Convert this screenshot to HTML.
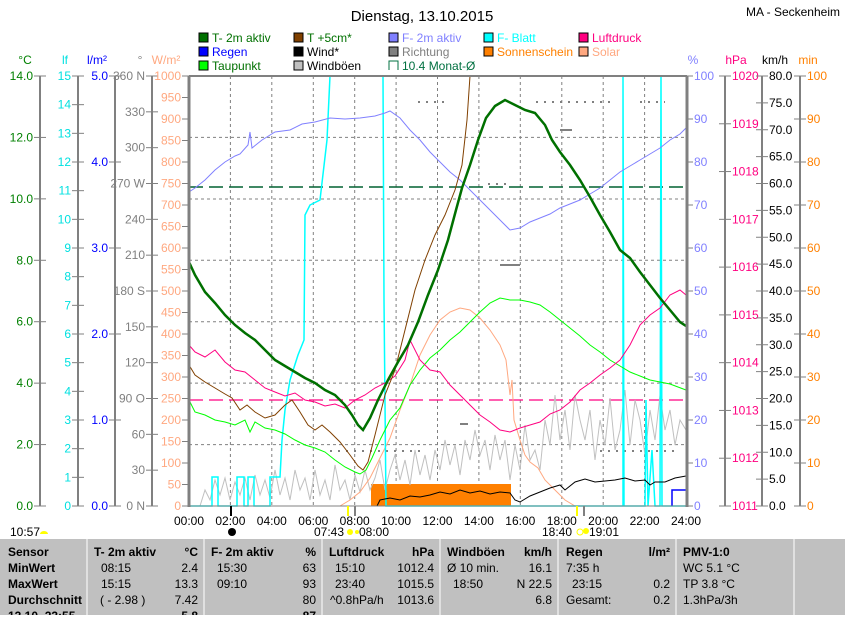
<!DOCTYPE html>
<html><head><meta charset="utf-8"><style>
body{margin:0;background:#fff;width:845px;height:615px;overflow:hidden;font-family:"Liberation Sans",sans-serif}
svg text{font-family:"Liberation Sans",sans-serif}
</style></head><body>
<svg width="845" height="615" viewBox="0 0 845 615" xmlns="http://www.w3.org/2000/svg">
<rect width="845" height="615" fill="#fff"/>
<text x="422" y="21" font-size="15" text-anchor="middle">Dienstag, 13.10.2015</text>
<text x="840" y="16" font-size="12" text-anchor="end">MA - Seckenheim</text>

<g font-size="12">
<rect x="199" y="33" width="9" height="9" fill="#007000" stroke="#000"/><text x="212" y="42" fill="#007000">T- 2m aktiv</text>
<rect x="199" y="47" width="9" height="9" fill="#0000ff" stroke="#000"/><text x="212" y="56" fill="#0000ff">Regen</text>
<rect x="199" y="61" width="9" height="9" fill="#00ff00" stroke="#000"/><text x="212" y="70" fill="#007000">Taupunkt</text>
<rect x="294" y="33" width="9" height="9" fill="#804000" stroke="#000"/><text x="307" y="42" fill="#007000">T +5cm*</text>
<rect x="294" y="47" width="9" height="9" fill="#000" stroke="#000"/><text x="307" y="56" fill="#000">Wind*</text>
<rect x="294" y="61" width="9" height="9" fill="#c0c0c0" stroke="#000"/><text x="307" y="70" fill="#000">Windböen</text>
<rect x="389" y="33" width="9" height="9" fill="#8080ff" stroke="#000"/><text x="402" y="42" fill="#8080ff">F- 2m aktiv</text>
<rect x="389" y="47" width="9" height="9" fill="#808080" stroke="#000"/><text x="402" y="56" fill="#808080">Richtung</text>
<path d="M389 70V61H398V70" fill="none" stroke="#007040"/><text x="402" y="70" fill="#007040">10.4 Monat-Ø</text>
<rect x="484" y="33" width="9" height="9" fill="#00ffff" stroke="#000"/><text x="497" y="42" fill="#00ffff">F- Blatt</text>
<rect x="484" y="47" width="9" height="9" fill="#ff8000" stroke="#000"/><text x="497" y="56" fill="#ff8000">Sonnenschein</text>
<rect x="579" y="33" width="9" height="9" fill="#ff0080" stroke="#000"/><text x="592" y="42" fill="#ff0080">Luftdruck</text>
<rect x="579" y="47" width="9" height="9" fill="#ffa880" stroke="#000"/><text x="592" y="56" fill="#ffa880">Solar</text>
</g>

<g font-size="12" text-anchor="middle">
<text x="25" y="64" fill="#008000">°C</text>
<text x="65" y="64" fill="#00e0e0">lf</text>
<text x="97" y="64" fill="#0000ff">l/m²</text>
<text x="140" y="64" fill="#808080">°</text>
<text x="166" y="64" fill="#ffa880">W/m²</text>
<text x="693" y="64" fill="#8080ff">%</text>
<text x="736" y="64" fill="#ff0080">hPa</text>
<text x="775" y="64" fill="#000">km/h</text>
<text x="808" y="64" fill="#ff8000">min</text>
</g>

<g stroke="#808080" stroke-width="2">
<line x1="40" y1="76" x2="40" y2="506"/>
<line x1="78" y1="76" x2="78" y2="506"/>
<line x1="115" y1="76" x2="115" y2="506"/>
<line x1="152" y1="76" x2="152" y2="506"/>
<line x1="725" y1="76" x2="725" y2="506"/>
<line x1="762" y1="76" x2="762" y2="506"/>
<line x1="800" y1="76" x2="800" y2="506"/>
</g>

<g id="axes" font-size="12"></g>

<rect x="189" y="76" width="497" height="430" fill="#fff"/>
<g stroke="#808080" stroke-dasharray="3,3" stroke-width="1">
<line x1="230.4" y1="76" x2="230.4" y2="506"/><line x1="271.8" y1="76" x2="271.8" y2="506"/>
<line x1="313.3" y1="76" x2="313.3" y2="506"/><line x1="354.7" y1="76" x2="354.7" y2="506"/>
<line x1="396.1" y1="76" x2="396.1" y2="506"/><line x1="437.5" y1="76" x2="437.5" y2="506"/>
<line x1="478.9" y1="76" x2="478.9" y2="506"/><line x1="520.3" y1="76" x2="520.3" y2="506"/>
<line x1="561.8" y1="76" x2="561.8" y2="506"/><line x1="603.2" y1="76" x2="603.2" y2="506"/>
<line x1="644.6" y1="76" x2="644.6" y2="506"/>
<line x1="189" y1="137.4" x2="686" y2="137.4"/><line x1="189" y1="199" x2="686" y2="199"/>
<line x1="189" y1="260.3" x2="686" y2="260.3"/><line x1="189" y1="321.7" x2="686" y2="321.7"/>
<line x1="189" y1="383.1" x2="686" y2="383.1"/><line x1="189" y1="444.6" x2="686" y2="444.6"/>
</g>
<line x1="189" y1="187" x2="686" y2="187" stroke="#006030" stroke-width="1.5" stroke-dasharray="14,6"/>
<line x1="189" y1="400" x2="686" y2="400" stroke="#ff0080" stroke-width="1.2" stroke-dasharray="14,6"/>

<rect x="371" y="484" width="140" height="22" fill="#ff8000"/>
<polyline fill="none" stroke="#c0c0c0" stroke-width="1" points="200,506 205,490 210,500 215,480 220,495 225,478 230,500 235,482 240,495 245,478 250,500 255,475 260,495 265,480 270,498 275,470 280,495 285,478 290,500 295,470 300,490 305,478 310,500 315,470 320,495 325,480 330,500 335,465 340,490 345,480 350,500 355,475 360,492 365,470 370,490 375,478 380,460 385,490 390,470 395,455 400,480 405,460 410,485 415,450 420,475 425,455 430,480 435,450 440,470 445,440 450,465 455,445 460,475 465,440 470,460 475,430 480,455 485,440 490,470 495,435 500,460 505,440 510,480 515,445 520,470 525,425 530,460 535,450 540,470 545,420 550,445 555,395 560,440 565,410 570,450 575,395 580,420 585,440 590,410 595,460 600,420 605,445 610,398 615,450 620,430 625,390 630,445 635,400 640,420 645,455 650,410 655,440 660,395 665,430 670,410 675,445 680,420 686,430"/>
<g stroke="#808080" stroke-width="2" stroke-dasharray="2,6">
<line x1="418" y1="102" x2="450" y2="102"/><line x1="536" y1="102" x2="610" y2="102"/><line x1="640" y1="102" x2="665" y2="102"/>
<line x1="488" y1="184" x2="510" y2="184"/><line x1="330" y1="451" x2="420" y2="451"/><line x1="600" y1="451" x2="680" y2="451"/>
</g>
<g stroke="#808080" stroke-width="2"><line x1="500" y1="265" x2="520" y2="265"/><line x1="560" y1="130" x2="572" y2="130"/><line x1="460" y1="424" x2="468" y2="424"/></g>
<polyline fill="none" stroke="#ffa880" stroke-width="1" points="340,506 350,500 360,492 370,478 380,458 390,438 400,410 410,385 420,355 430,335 440,320 450,312 460,308 470,310 480,318 490,330 500,345 506,360 510,395 512,380 514,420 520,440 525,455 530,462 538,468 545,480 555,490 565,500 575,506 686,506"/>
<polyline fill="none" stroke="#00ffff" stroke-width="1.5" points="189,506 212,506 212,477 218,477 218,506 237,506 237,477 244,477 244,506 248,506 248,477 254,477 254,506 270,506 270,477 280,477 282,440 285,410 290,380 298,355 304,340 305,215 310,205 320,200 327,140 330,76 383,76 384,300 386,506 623,506 623,76 624,506 645,506 646,400 648,506 652,450 655,506 660,506 661,76 662,506 686,506"/>
<polyline fill="none" stroke="#0000ff" stroke-width="1.5" points="672,506 672,490 686,490"/>
<polyline fill="none" stroke="#000" stroke-width="1" points="377,506 380,500 390,498 400,500 410,496 420,497 430,495 440,492 450,494 460,490 470,493 480,491 490,494 500,492 510,493 515,500 520,502 530,496 540,492 550,488 560,485 565,490 575,482 585,479 595,482 605,481 615,480 625,478 635,481 645,480 650,485 655,482 665,482 675,478 686,476"/>
<polyline fill="none" stroke="#00ff00" stroke-width="1" points="189,400 195,412 205,415 215,420 225,422 235,425 245,420 250,432 255,422 265,428 275,430 285,434 295,440 305,445 315,448 325,452 335,460 345,467 355,472 360,474 366,470 372,458 380,440 390,420 400,408 410,385 420,370 430,358 440,350 450,340 460,332 470,322 480,312 490,303 500,298 510,300 520,300 530,302 540,305 550,312 560,320 570,328 580,336 590,345 600,352 610,360 620,366 630,372 640,376 650,380 660,382 670,384 686,390"/>
<polyline fill="none" stroke="#ff0080" stroke-width="1" points="189,345 195,352 205,357 215,350 225,362 235,370 245,372 255,380 265,388 275,392 285,396 295,393 305,400 315,402 325,406 335,404 345,408 355,400 365,395 375,388 385,383 395,376 405,360 410,340 420,360 430,370 440,372 450,385 460,395 470,405 480,415 490,422 500,430 510,432 520,428 530,425 540,422 550,414 560,410 570,402 580,390 590,383 600,375 610,368 620,360 630,345 640,325 650,315 660,308 670,295 680,290 686,295"/>
<polyline fill="none" stroke="#8080ff" stroke-width="1" points="189,192 195,188 205,180 215,170 225,162 235,156 240,154 248,145 250,132 252,148 262,140 275,132 290,130 302,124 315,122 330,118 345,119 360,118 375,116 385,113 390,111 400,118 410,130 420,140 430,152 440,162 450,172 460,180 470,190 480,200 490,210 500,220 510,230 520,228 530,222 540,218 550,214 560,208 570,204 580,200 590,194 600,188 610,180 620,172 630,166 640,160 650,154 660,148 670,140 680,134 686,128"/>
<polyline fill="none" stroke="#804000" stroke-width="1" points="189,365 195,375 205,382 215,388 225,394 232,398 240,410 247,405 255,412 265,418 275,415 285,405 292,400 300,412 308,425 315,430 322,425 330,432 340,442 350,455 358,466 363,470 368,462 375,435 385,395 395,370 405,330 415,290 425,260 435,235 445,215 455,190 462,165 467,120 470,76 M518,76 520,96 530,108 540,118 550,140 560,158 570,180 580,205 590,222 600,238 610,248 620,258 630,268 640,282 650,302 660,318 670,335 680,348 686,352"/>
<polyline fill="none" stroke="#007000" stroke-width="2.5" points="189,262 195,275 205,292 215,303 225,315 235,325 245,333 255,340 265,350 275,360 285,366 295,372 305,378 315,383 325,390 335,395 345,405 352,415 358,425 363,430 370,418 378,400 388,380 398,362 408,345 418,322 428,295 438,270 448,240 456,210 462,188 470,165 478,140 486,118 495,106 505,100 515,105 525,110 535,113 545,125 552,140 560,152 570,165 580,180 590,197 600,215 610,232 620,250 630,258 640,272 650,285 660,298 670,310 680,322 686,326"/>
<line x1="189" y1="76" x2="189" y2="507" stroke="#808080" stroke-width="3"/>
<line x1="687" y1="76" x2="687" y2="507" stroke="#808080" stroke-width="3"/>
<line x1="189" y1="76" x2="687" y2="76" stroke="#808080" stroke-width="2"/>
<line x1="189" y1="506" x2="687" y2="506" stroke="#808080" stroke-width="1"/>
<g font-size="12" text-anchor="middle">
<text x="189" y="525">00:00</text><text x="230.4" y="525">02:00</text><text x="271.8" y="525">04:00</text>
<text x="313.3" y="525">06:00</text><text x="354.7" y="525">08:00</text><text x="396.1" y="525">10:00</text>
<text x="437.5" y="525">12:00</text><text x="478.9" y="525">14:00</text><text x="520.3" y="525">16:00</text>
<text x="561.8" y="525">18:00</text><text x="603.2" y="525">20:00</text><text x="644.6" y="525">22:00</text>
<text x="686" y="525">24:00</text>
<text x="10" y="536" text-anchor="start">10:57</text>
<text x="329" y="536">07:43</text><text x="374" y="536">08:00</text>
<text x="557" y="536">18:40</text><text x="604" y="536">19:01</text>
</g>
<line x1="231" y1="506" x2="231" y2="516" stroke="#000" stroke-width="2"/>
<line x1="348" y1="506" x2="348" y2="516" stroke="#ffff00" stroke-width="2"/>
<line x1="355" y1="506" x2="355" y2="516" stroke="#808080" stroke-width="2"/>
<line x1="577" y1="506" x2="577" y2="516" stroke="#ffff00" stroke-width="2"/>
<line x1="584" y1="506" x2="584" y2="516" stroke="#808080" stroke-width="2"/>
<circle cx="232" cy="532" r="4" fill="#000"/>
<path d="M40 534a4 3 0 0 1 8 0z" fill="#ffff00"/>
<circle cx="350" cy="532" r="3" fill="#ffff00"/><circle cx="357" cy="532" r="2" fill="#ffff00"/>
<circle cx="580" cy="532" r="3" fill="none" stroke="#ffff00"/><circle cx="586" cy="531" r="3" fill="#ffff00"/>

<rect x="0" y="539" width="845" height="76" fill="#c0c0c0"/>
<g stroke="#fff" stroke-width="1">
<line x1="87" y1="539" x2="87" y2="615"/><line x1="204" y1="539" x2="204" y2="615"/>
<line x1="322" y1="539" x2="322" y2="615"/><line x1="440" y1="539" x2="440" y2="615"/>
<line x1="558" y1="539" x2="558" y2="615"/><line x1="676" y1="539" x2="676" y2="615"/>
<line x1="794" y1="539" x2="794" y2="615"/>
</g>
<g font-size="12">
<g font-weight="bold"><text x="8" y="556">Sensor</text><text x="8" y="572">MinWert</text><text x="8" y="588">MaxWert</text><text x="8" y="604">Durchschnitt</text><text x="8" y="620">13.10. 23:55</text>
<text x="94" y="556">T- 2m aktiv</text><text x="198" y="556" text-anchor="end">°C</text>
<text x="211" y="556">F- 2m aktiv</text><text x="316" y="556" text-anchor="end">%</text>
<text x="329" y="556">Luftdruck</text><text x="434" y="556" text-anchor="end">hPa</text>
<text x="447" y="556">Windböen</text><text x="552" y="556" text-anchor="end">km/h</text>
<text x="566" y="556">Regen</text><text x="670" y="556" text-anchor="end">l/m²</text>
<text x="683" y="556">PMV-1:0</text>
<text x="198" y="620" text-anchor="end">5.8</text><text x="316" y="620" text-anchor="end">87</text></g>
<text x="101" y="572">08:15</text><text x="198" y="572" text-anchor="end">2.4</text>
<text x="101" y="588">15:15</text><text x="198" y="588" text-anchor="end">13.3</text>
<text x="100" y="604">( - 2.98 )</text><text x="198" y="604" text-anchor="end">7.42</text>
<text x="217" y="572">15:30</text><text x="316" y="572" text-anchor="end">63</text>
<text x="217" y="588">09:10</text><text x="316" y="588" text-anchor="end">93</text>
<text x="316" y="604" text-anchor="end">80</text>
<text x="335" y="572">15:10</text><text x="434" y="572" text-anchor="end">1012.4</text>
<text x="335" y="588">23:40</text><text x="434" y="588" text-anchor="end">1015.5</text>
<text x="330" y="604">^0.8hPa/h</text><text x="434" y="604" text-anchor="end">1013.6</text>
<text x="447" y="572">Ø 10 min.</text><text x="552" y="572" text-anchor="end">16.1</text>
<text x="453" y="588">18:50</text><text x="552" y="588" text-anchor="end">N 22.5</text>
<text x="552" y="604" text-anchor="end">6.8</text>
<text x="566" y="572">7:35 h</text>
<text x="572" y="588">23:15</text><text x="670" y="588" text-anchor="end">0.2</text>
<text x="566" y="604">Gesamt:</text><text x="670" y="604" text-anchor="end">0.2</text>
<text x="683" y="572">WC 5.1 °C</text><text x="683" y="588">TP 3.8 °C</text><text x="683" y="604">1.3hPa/3h</text>
</g>
</svg>
<script>
(function(){
var g=document.getElementById('axes'),ns='http://www.w3.org/2000/svg';
function t(x,y,s,c,a){var e=document.createElementNS(ns,'text');e.setAttribute('x',x);e.setAttribute('y',y+4);e.setAttribute('fill',c);e.setAttribute('text-anchor',a||'end');e.textContent=s;g.appendChild(e);}
function k(x1,x2,y){var e=document.createElementNS(ns,'line');e.setAttribute('x1',x1);e.setAttribute('x2',x2);e.setAttribute('y1',y);e.setAttribute('y2',y);e.setAttribute('stroke','#808080');e.setAttribute('stroke-width','1');g.appendChild(e);}
var T=76,B=506,H=B-T,i,y;
for(i=0;i<=7;i++){y=B-H*i/7;k(34,46,y);t(33,y,(i*2).toFixed(1),'#008000');}
for(i=0;i<=15;i++){y=B-H*i/15;k(72,84,y);t(71,y,''+i,'#00e0e0');}
for(i=0;i<=5;i++){y=B-H*i/5;k(109,121,y);t(108,y,i.toFixed(1),'#0000ff');}
var d={0:'0 N',90:'90 O',180:'180 S',270:'270 W',360:'360 N'};
for(i=0;i<=12;i++){y=B-H*i/12;k(146,158,y);t(145,y,d[i*30]||(''+i*30),'#808080');}
for(i=0;i<=20;i++){y=B-H*i/20;k(182,189,y);t(181,y,''+i*50,'#ffa880');}
for(i=0;i<=10;i++){y=B-H*i/10;k(687,693,y);t(694,y,''+i*10,'#8080ff','start');}
for(i=0;i<=9;i++){y=B-H*i/9;k(719,731,y);t(732,y,''+(1011+i),'#ff0080','start');}
for(i=0;i<=16;i++){y=B-H*i/16;k(756,768,y);t(769,y,(i*5).toFixed(1),'#000','start');}
for(i=0;i<=10;i++){y=B-H*i/10;k(794,806,y);t(807,y,''+i*10,'#ff8000','start');}
})();
</script>
</body></html>
